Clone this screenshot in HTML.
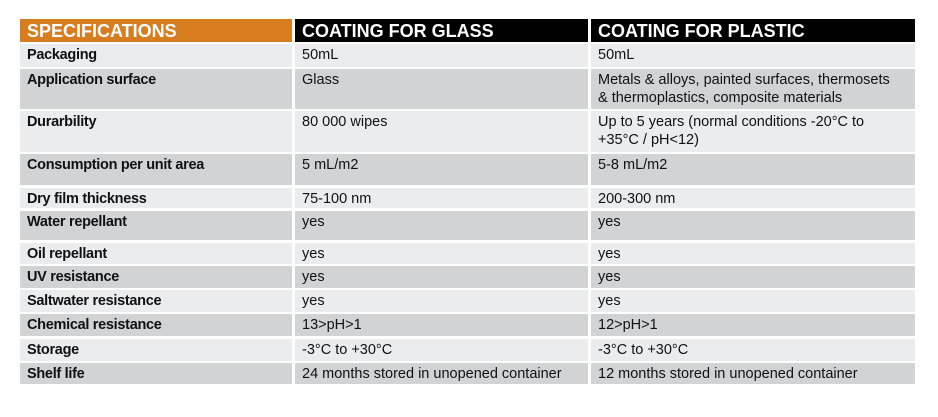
<!DOCTYPE html>
<html><head><meta charset="utf-8">
<style>
body{margin:0;background:#fff;width:938px;height:417px;position:relative;overflow:hidden;font-family:"Liberation Sans",sans-serif;color:#111}
.c{position:absolute;box-sizing:border-box;padding:2px 0 0 7px;font-size:14.5px;line-height:18px;white-space:nowrap}
.h{font-weight:bold;font-size:18px;color:#fff;padding-top:1px;line-height:22px}
.b{font-weight:bold;font-size:14.5px;letter-spacing:-0.3px;padding-top:2px}
</style></head><body>
<div id="t"></div>
<script>
const rows=[
["Packaging","50mL","50mL",44,67],
["Application surface","Glass","Metals & alloys, painted surfaces, thermosets<br>& thermoplastics, composite materials",69,109],
["Durarbility","80 000 wipes","Up to 5 years (normal conditions -20°C to<br>+35°C / pH&lt;12)",111,152],
["Consumption per unit area","5 mL/m2","5-8 mL/m2",154,185],
["Dry film thickness","75-100 nm","200-300 nm",188,208],
["Water repellant","yes","yes",211,240],
["Oil repellant","yes","yes",243,264],
["UV resistance","yes","yes",266,288],
["Saltwater resistance","yes","yes",290,312],
["Chemical resistance","13>pH>1","12>pH>1",314,336],
["Storage","-3°C to +30°C","-3°C to +30°C",339,361],
["Shelf life","24 months stored in unopened container","12 months stored in unopened container",363,384]];
const cols=[[20,292],[295,588],[591,915]];
const t=document.getElementById('t');
function cell(x0,x1,y0,y1,bg,html,cls,name){
const d=document.createElement('div');
d.className='c '+cls;
d.style.left=x0+'px';d.style.width=(x1-x0)+'px';d.style.top=y0+'px';d.style.height=(y1-y0)+'px';d.style.background=bg;
d.innerHTML=html;


t.appendChild(d);}
const heads=["SPECIFICATIONS","COATING FOR GLASS","COATING FOR PLASTIC"];
heads.forEach((h,i)=>cell(cols[i][0],cols[i][1],19,42,i==0?'#d87d1f':'#000',h,'h','header-'+i));
rows.forEach((r,j)=>{const bg=j%2?'#d2d3d5':'#ebecee';
cell(cols[0][0],cols[0][1],r[3],r[4],bg,r[0],'b','row-label');
cell(cols[1][0],cols[1][1],r[3],r[4],bg,r[1],'','glass-value');
cell(cols[2][0],cols[2][1],r[3],r[4],bg,r[2],'','plastic-value');});
</script>
</body></html>
